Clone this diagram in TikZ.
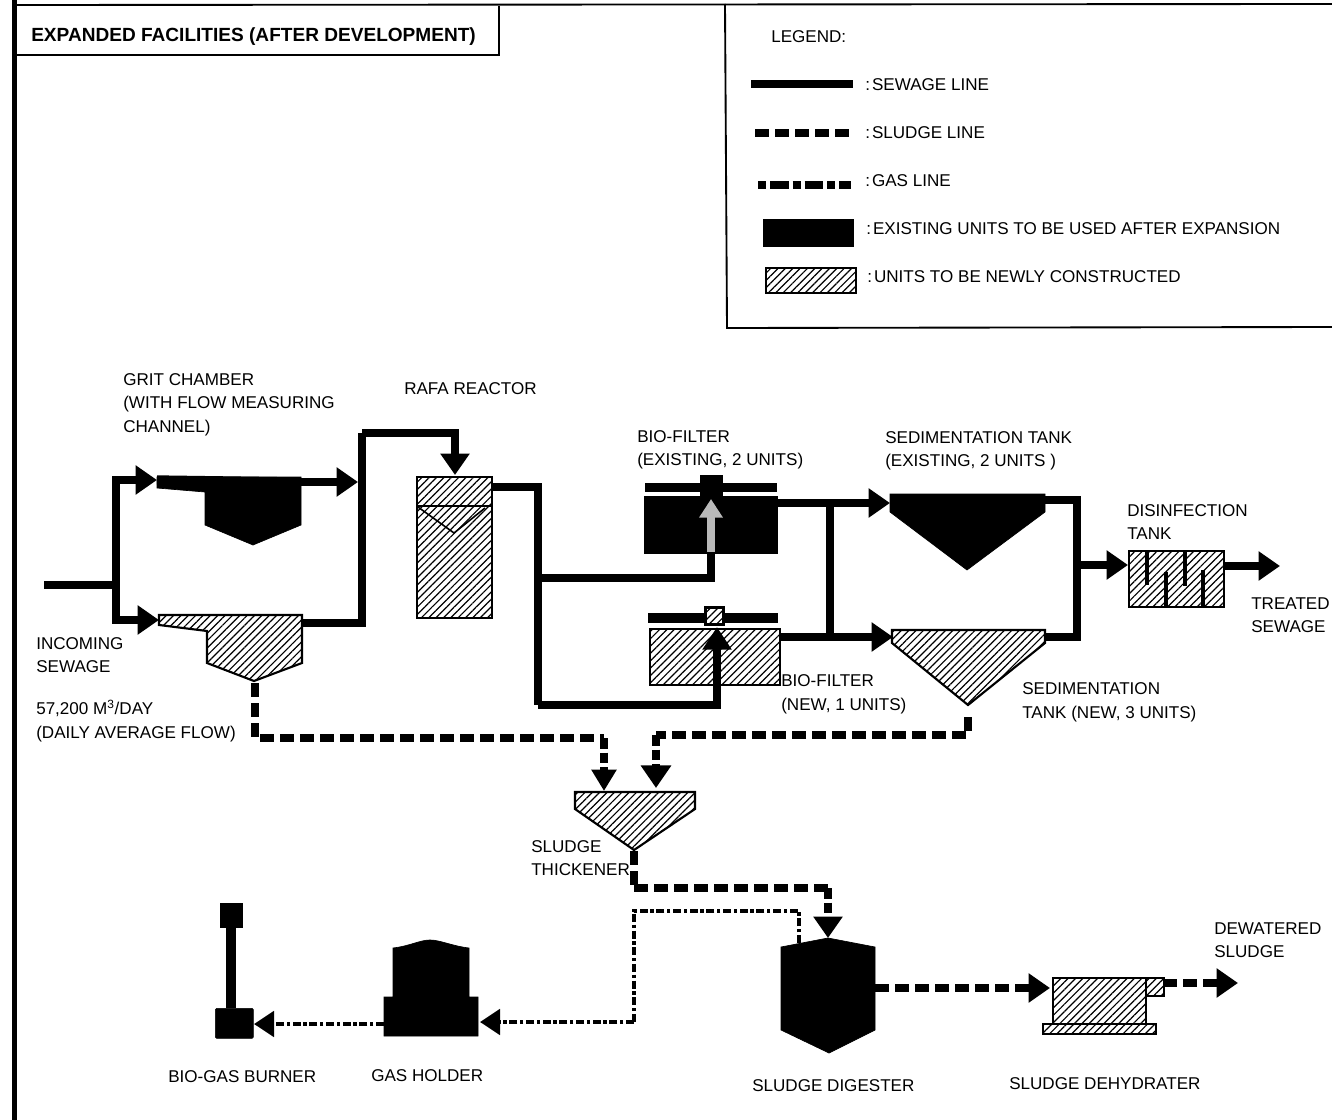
\documentclass[tikz,border=0pt]{standalone}
\usepackage{fontspec}
\setmainfont{Liberation Sans}
\usetikzlibrary{arrows.meta,patterns.meta,calc}
\tikzset{
  hatch/.style={draw=black,line width=1.6pt,line join=miter,pattern={Lines[angle=45,distance=3.9pt,line width=.9pt]}},
  solidunit/.style={fill=black,draw=black,line width=.5pt},
  sewage/.style={line width=6pt,line join=miter,draw=black},
  sludge/.style={line width=6pt,draw=black,dash pattern=on 10.5pt off 4.5pt},
  shortsludge/.style={dash pattern=on 8pt off 3pt},
  gas/.style={line width=3pt,draw=black,dash pattern=on 6pt off 2pt on 2.5pt off 2pt},
  biggas/.style={line width=6pt,draw=black,dash pattern=on 6pt off 3pt on 14pt off 3pt},
  bighead/.style={-{Triangle[length=16pt,width=21pt,fill=black]}},
  smallhead/.style={-{Triangle[length=16pt,width=18pt,fill=black]}},
  lbl/.style={anchor=west,inner sep=0pt,align=left,font=\fontsize{12.8pt}{17.6pt}\selectfont},
  frameline/.style={line width=1.4pt,draw=black}
}
\newcommand{\lgcolon}{:\hspace{0.12em}}
\begin{document}
\begin{tikzpicture}[x=0.75pt,y=-0.75pt]
\useasboundingbox (0,0) rectangle (1332,1120);
\fill[white] (0,0) rectangle (1332,1120);

% page frame, title box, legend box
\coordinate (ptl) at (14.5,5); \coordinate (ptr) at (1332,4); \coordinate (pbl) at (14.5,1120); \coordinate (ptop) at (14.5,0);
\draw[frameline,line width=3.4pt] (pbl) -- (ptop);
\draw[frameline] (ptl) -- (ptr);
\coordinate (tbl) at (14.5,55); \coordinate (tbr) at (499,55); \coordinate (tbt) at (499,6);
\draw[frameline,line width=1.2pt] (tbl) -- (tbr) -- (tbt);
\node[lbl,font=\fontsize{14.3pt}{16pt}\selectfont\bfseries] (title) at (31,36.5) {EXPANDED FACILITIES (AFTER DEVELOPMENT)};
\coordinate (lgtl) at (725,4); \coordinate (lgbl) at (727,328); \coordinate (lgbr) at (1332,327);
\draw[frameline] (lgtl) -- (lgbl) -- (lgbr);

% legend
\node[lbl] (lgtitle) at (771,37) {LEGEND:};
\coordinate (la1) at (751,84); \coordinate (la2) at (853,84);
\draw[sewage] (la1) -- (la2);
\node[lbl] (lt1) at (865,85) {\lgcolon SEWAGE LINE};
\coordinate (lb1) at (755,133); \coordinate (lb2) at (851,133);
\draw[sludge] (lb1) -- (lb2);
\node[lbl] (lt2) at (865,133) {\lgcolon SLUDGE LINE};
\coordinate (lc1) at (758,185); \coordinate (lc2) at (851,185);
\draw[biggas] (lc1) -- (lc2);
\node[lbl] (lt3) at (865,181) {\lgcolon GAS LINE};
\node[solidunit,anchor=north west,minimum width=90*0.75pt,minimum height=27*0.75pt,inner sep=0pt] (lbox1) at (763,219) {};
\node[lbl] (lt4) at (866,229) {\lgcolon EXISTING UNITS TO BE USED AFTER EXPANSION};
\node[hatch,anchor=north west,minimum width=90*0.75pt,minimum height=25*0.75pt,inner sep=0pt] (lbox2) at (765,267) {};
\node[lbl] (lt5) at (867,277) {\lgcolon UNITS TO BE NEWLY CONSTRUCTED};

% grit chambers
\draw[solidunit] (157,477) -- (157,488) -- (205,492) -- (205,525) -- (253,545) -- (301,525) -- (301,477) -- cycle;
\draw[hatch] (159,615) -- (159,625) -- (207,631) -- (207,663) -- (254,681) -- (302,663) -- (302,615) -- cycle;
\coordinate (gritAin) at (157,480); \coordinate (gritAout) at (301,482);
\coordinate (gritBin) at (159,620); \coordinate (gritBout) at (302,623); \coordinate (gritBbot) at (255,683);
% reactor
\node[hatch,anchor=north west,minimum width=75*0.75pt,minimum height=141*0.75pt,inner sep=0pt] (reactor) at (416,476) {};
\draw[line width=1.5pt] (reactor.north west |- 0,506) -- (reactor.north east |- 0,506);
\draw[line width=1.2pt] (418,507) -- (454,533) -- (485,508);
% bio-filters
\node[solidunit,anchor=north west,minimum width=133*0.75pt,minimum height=57*0.75pt,inner sep=0pt] (bfA) at (644,496) {};
\node[solidunit,anchor=north west,minimum width=131*0.75pt,minimum height=8*0.75pt,inner sep=0pt] (bfAbar) at (645,483) {};
\node[solidunit,anchor=north west,minimum width=22*0.75pt,minimum height=22*0.75pt,inner sep=0pt] (bfAcap) at (700,475) {};
\node[hatch,anchor=north west,minimum width=130*0.75pt,minimum height=56*0.75pt,inner sep=0pt] (bfB) at (649,628) {};
\node[solidunit,anchor=north west,minimum width=129*0.75pt,minimum height=9*0.75pt,inner sep=0pt] (bfBbar) at (648,613) {};
\node[hatch,line width=2.2pt,preaction={fill=white},anchor=north west,minimum width=18*0.75pt,minimum height=17*0.75pt,inner sep=0pt] (bfBcap) at (704,606) {};
% sedimentation tanks
\draw[solidunit] (890,494) -- (890,512) -- (967,570) -- (1045,512) -- (1045,494) -- cycle;
\draw[hatch] (892,630) -- (892,643) -- (968,705) -- (1045,643) -- (1045,630) -- cycle;
% disinfection tank
\node[hatch,anchor=north west,minimum width=95*0.75pt,minimum height=56*0.75pt,inner sep=0pt] (disinf) at (1128,550) {};
\draw[line width=3pt] (1147,550) -- (1147,585) (1166,606) -- (1166,572) (1185,550) -- (1185,586) (1203,606) -- (1203,570);
% thickener
\draw[hatch] (575,792) -- (695,792) -- (695,809) -- (634,850) -- (575,809) -- cycle;
% digester
\draw[solidunit] (781,947) -- (828,938) -- (875,947) -- (875,1030) -- (829,1053) -- (781,1030) -- cycle;
% dehydrater
\node[hatch,anchor=north west,minimum width=93*0.75pt,minimum height=46*0.75pt,inner sep=0pt] (dehyd) at (1052,977) {};
\node[hatch,anchor=north west,minimum width=18*0.75pt,minimum height=18*0.75pt,inner sep=0pt] (dehydS) at (1145,977) {};
\node[hatch,anchor=north west,minimum width=113*0.75pt,minimum height=10*0.75pt,inner sep=0pt] (dehydB) at (1042,1023) {};
% gas holder
\draw[solidunit] (384,1036) -- (384,997) -- (393,997) -- (393,948) .. controls (410,946) and (420,940) .. (430,940) .. controls (440,940) and (452,946) .. (469,948) -- (469,997) -- (478,997) -- (478,1036) -- cycle;
% burner
\node[solidunit,anchor=north west,minimum width=38*0.75pt,minimum height=30*0.75pt,inner sep=0pt,rounded corners=1pt] (burnB) at (215,1008) {};
\node[solidunit,anchor=north west,minimum width=22*0.75pt,minimum height=24*0.75pt,inner sep=0pt] (burnT) at (220,903) {};
\draw[line width=7.5pt] (burnT.south) -- (burnB.north -| burnT.south);

% sewage connectors
\coordinate (inc) at (44,585); \coordinate (split) at (116,585);
\coordinate (tA) at (116,480); \coordinate (tB) at (116,620);
\coordinate (riserB) at (362,623); \coordinate (riserT) at (362,433); \coordinate (rinTop) at (455,433); \coordinate (rin) at (455,475);
\coordinate (rout) at (491,487); \coordinate (rc) at (538,487); \coordinate (rcb) at (538,705);
\coordinate (rmid) at (538,578); \coordinate (upA) at (711,553); \coordinate (upB) at (717,627);
\coordinate (ajoin) at (830,503); \coordinate (bjoin) at (830,637);
\coordinate (sedAin) at (890,503); \coordinate (sedBin) at (893,637);
\coordinate (sedAout) at (1045,500); \coordinate (sedBout) at (1045,637);
\coordinate (colT) at (1077,500); \coordinate (colB) at (1077,637); \coordinate (colM) at (1077,565);
\coordinate (disIn) at (1128,565); \coordinate (disOut) at (1223,566); \coordinate (treated) at (1280,566);

\draw[sewage] (inc) -- (split);
\draw[sewage,bighead] (split) -- (tB) -- (gritBin);
\draw[sewage,bighead] (split) -- (tA) -- (gritAin);
\draw[sewage,line width=7pt] (gritAin) -- (gritAout);
\draw[sewage,bighead] (gritAout) -- (358,482);
\draw[sewage] (gritBout) -- (riserB) -- (riserT);
\draw[sewage,bighead] (riserT) -- (rinTop) -- (rin);
\draw[sewage] (rout) -- (rc) -- (rcb);
\draw[sewage] (rmid) -| (upA);
\draw[sewage,-{Triangle[length=17pt,width=21pt,fill=black]}] (rcb) -| (upB);
\draw[sewage,bighead] (bfA.east |- ajoin) -- (sedAin);
\draw[sewage,bighead] (bfB.east |- bjoin) -- (sedBin);
\draw[sewage] (ajoin) -- (bjoin);
\draw[sewage] (sedAout) -- (colT) -- (colB) -- (sedBout);
\draw[sewage,bighead] (colM) -- (disIn);
\draw[sewage,bighead] (disOut) -- (treated);

% dotted up arrow in the existing bio-filter
\coordinate (dotS) at (711,552); \coordinate (dotE) at (711,499);
\draw[line width=6.5pt,draw=gray!55,-{Triangle[length=14pt,width=17pt,fill=gray!55]}] (dotS) -- (dotE);

% sludge connectors
\coordinate (sA) at (255,738); \coordinate (sAe) at (604,738); \coordinate (sAt) at (604,791);
\coordinate (sBs) at (968,717); \coordinate (sBc) at (968,735); \coordinate (sBe) at (656,735); \coordinate (sBt) at (656,788);
\coordinate (tOut) at (634,851); \coordinate (tC) at (634,888); \coordinate (tE) at (828,888); \coordinate (digIn) at (828,938);
\coordinate (digOut) at (875,988); \coordinate (dehIn) at (1050,988);
\coordinate (dehOut) at (1163,983); \coordinate (dewat) at (1238,983);
\draw[sludge] (gritBbot) -- (sA) -- (sAe);
\draw[sludge,smallhead,shortsludge] (sAe) -- (sAt);
\draw[sludge] (sBs) -- (sBc) -- (sBe);
\draw[sludge,-{Triangle[length=17pt,width=22pt,fill=black]},shortsludge] (sBe) -- (sBt);
\draw[sludge] (tOut) -- (tC);
\draw[sludge] (tC) -- (tE);
\draw[sludge,bighead,shortsludge] (tE) -- (digIn);
\draw[sludge,bighead] (digOut) -- (dehIn);
\draw[sludge,bighead] (dehOut) -- (dewat);

% gas connectors
\coordinate (gS) at (799,943); \coordinate (g1) at (799,911); \coordinate (g2) at (634,911); \coordinate (g3) at (634,1022);
\coordinate (ghIn) at (480,1022); \coordinate (ghOut) at (384,1024); \coordinate (bnIn) at (254,1024);
\draw[gas] (gS) -- (g1) -- (g2) -- (g3);
\draw[gas,-{Triangle[length=15pt,width=19pt,fill=black]}] (g3) -- (ghIn);
\draw[gas,-{Triangle[length=15pt,width=19pt,fill=black]}] (ghOut) -- (bnIn);

% labels
\node[lbl] (l1) at (123,404.5) {GRIT CHAMBER\\(WITH FLOW MEASURING\\CHANNEL)};
\node[lbl] (l2) at (404,389) {RAFA REACTOR};
\node[lbl] (l3) at (637,450) {BIO-FILTER\\(EXISTING, 2 UNITS)};
\node[lbl] (l4) at (885,451) {SEDIMENTATION TANK\\(EXISTING, 2 UNITS )};
\node[lbl] (l5) at (1127,522) {DISINFECTION\\TANK};
\node[lbl] (l6) at (1251,615) {TREATED\\SEWAGE};
\node[lbl] (l7) at (36,655) {INCOMING\\SEWAGE};
\node[lbl] (l8) at (36,721) {57,200 M\textsuperscript{3}/DAY\\(DAILY AVERAGE FLOW)};
\node[lbl] (l9) at (781,694.5) {BIO-FILTER\\(NEW, 1 UNITS)};
\node[lbl] (l10) at (1022,702.5) {SEDIMENTATION\\TANK (NEW, 3 UNITS)};
\node[lbl] (l11) at (531,858) {SLUDGE\\THICKENER};
\node[lbl] (l12) at (1214,940) {DEWATERED\\SLUDGE};
\node[lbl] (l13) at (168,1077) {BIO-GAS BURNER};
\node[lbl] (l14) at (371,1076) {GAS HOLDER};
\node[lbl] (l15) at (752,1086) {SLUDGE DIGESTER};
\node[lbl] (l16) at (1009,1084) {SLUDGE DEHYDRATER};
\end{tikzpicture}
\end{document}
